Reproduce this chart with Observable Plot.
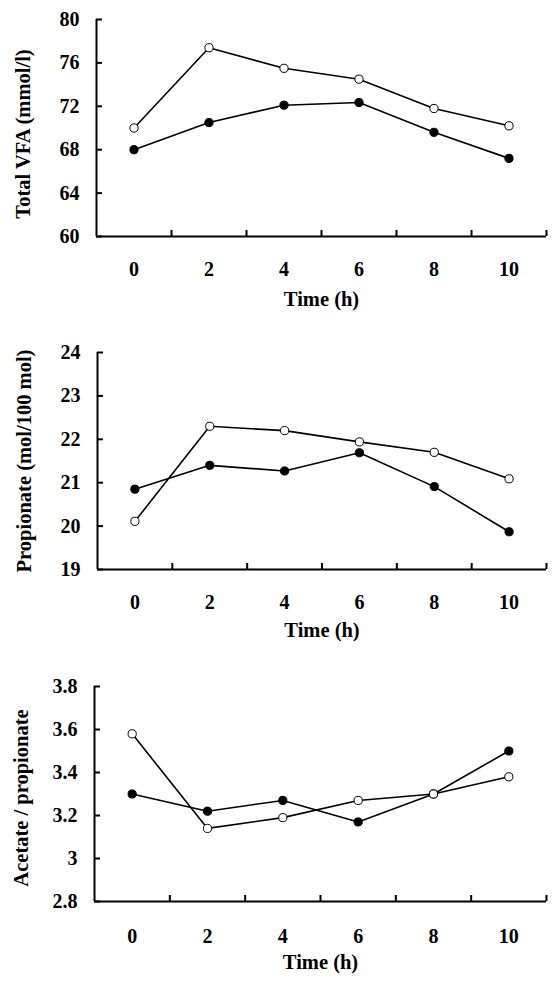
<!DOCTYPE html>
<html><head><meta charset="utf-8">
<script src="https://cdn.jsdelivr.net/npm/d3@7"></script>
<script src="https://cdn.jsdelivr.net/npm/@observablehq/plot@0.6"></script>
<style>body{margin:0;background:#fff}#c svg{display:block}</style>
</head><body><div id="c"></div>
<script>
// Data
const times = [0, 2, 4, 6, 8, 10];
const xBoundaries = [1, 3, 5, 7, 9, 11];
const xTitle = "Time (h)";

const vfaTitle = "Total VFA (mmol/l)";
const vfaTicks = [60, 64, 68, 72, 76, 80];
const vfaOpen = [70.0, 77.4, 75.5, 74.5, 71.8, 70.2];
const vfaFilled = [68.0, 70.5, 72.1, 72.35, 69.6, 67.2];

const propTitle = "Propionate (mol/100 mol)";
const propTicks = [19, 20, 21, 22, 23, 24];
const propOpen = [20.11, 22.30, 22.20, 21.94, 21.70, 21.09];
const propFilled = [20.85, 21.40, 21.27, 21.69, 20.91, 19.87];

const ratioTitle = "Acetate / propionate";
const ratioTicks = [2.8, 3, 3.2, 3.4, 3.6, 3.8];
const ratioOpen = [3.58, 3.14, 3.19, 3.27, 3.30, 3.38];
const ratioFilled = [3.30, 3.22, 3.27, 3.17, 3.30, 3.50];

const font = "'Liberation Serif', 'Times New Roman', serif";

function panel(o) {
  const rowsOpen = times.map((t, i) => ({t, v: o.open[i]}));
  const rowsFilled = times.map((t, i) => ({t, v: o.filled[i]}));
  const yMin = o.yTicks[0], yMax = o.yTicks[o.yTicks.length - 1];
  return Plot.plot({
    width: 560,
    height: o.height,
    marginTop: o.marginTop,
    marginBottom: o.marginBottom,
    marginLeft: o.marginLeft,
    marginRight: 14,
    style: {fontFamily: font, fontWeight: "bold", fontSize: "20px", background: "white", color: "black"},
    x: {type: "linear", domain: [-1, 11], label: null},
    y: {domain: [yMin, yMax], label: null},
    marks: [
      Plot.axisX(xBoundaries, {tickSize: -6, tickFormat: () => "", strokeWidth: 2, label: null}),
      Plot.axisX(times, {tickSize: 0, tickPadding: o.labelPad, label: null}),
      Plot.axisY(o.yTicks, {tickSize: -6, tickFormat: () => "", strokeWidth: 2, label: null}),
      Plot.axisY(o.yTicks, {tickSize: 0, tickPadding: 17, tickFormat: d => `${d}`, label: null}),
      Plot.ruleY([yMin], {strokeWidth: 2}),
      Plot.ruleX([-1], {strokeWidth: 2}),
      Plot.text([xTitle], {frameAnchor: "bottom", dy: o.titleDy, fontSize: 20.5}),
      Plot.text([o.yTitle], {frameAnchor: "left", textAnchor: "middle", rotate: -90, dx: -73, dy: o.yTitleDy, fontSize: 20.5}),
      Plot.line(rowsFilled, {x: "t", y: "v", stroke: "black", strokeWidth: 1.6}),
      Plot.line(rowsOpen, {x: "t", y: "v", stroke: "black", strokeWidth: 1.6}),
      Plot.dot(rowsFilled, {x: "t", y: "v", r: 4.1, fill: "black", stroke: "black", strokeWidth: 1}),
      Plot.dot(rowsOpen, {x: "t", y: "v", r: 4.1, fill: "white", stroke: "black", strokeWidth: 1})
    ]
  });
}

const c = document.getElementById("c");
c.append(panel({height: 330, marginTop: 19, marginBottom: 94, marginLeft: 96,
  yTicks: vfaTicks, yTitle: vfaTitle, open: vfaOpen, filled: vfaFilled, labelPad: 25, titleDy: 69, yTitleDy: 6}));
c.append(panel({height: 330, marginTop: 22, marginBottom: 91, marginLeft: 97,
  yTicks: propTicks, yTitle: propTitle, open: propOpen, filled: propFilled, labelPad: 25, titleDy: 67, yTitleDy: 0}));
c.append(panel({height: 328, marginTop: 26, marginBottom: 87, marginLeft: 94,
  yTicks: ratioTicks, yTitle: ratioTitle, open: ratioOpen, filled: ratioFilled, labelPad: 27, titleDy: 67, yTitleDy: 4}));
</script>
</body></html>
